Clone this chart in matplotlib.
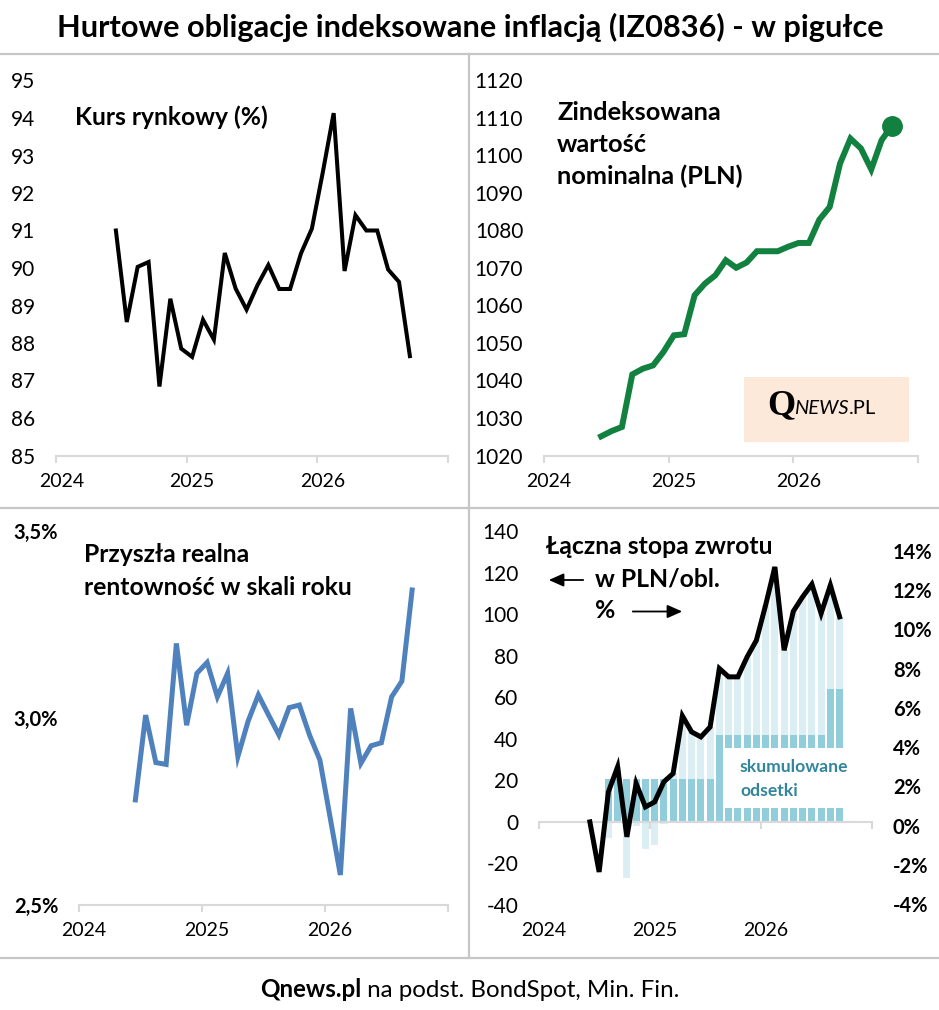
import numpy as np
import matplotlib
matplotlib.use("Agg")
import matplotlib.pyplot as plt
from matplotlib.patches import Rectangle, FancyArrowPatch
from matplotlib.lines import Line2D
from matplotlib.transforms import ScaledTranslation

# ---------------- data ----------------
months = ['2024-06', '2024-07', '2024-08', '2024-09', '2024-10', '2024-11', '2024-12',
          '2025-01', '2025-02', '2025-03', '2025-04', '2025-05', '2025-06', '2025-07',
          '2025-08', '2025-09', '2025-10', '2025-11', '2025-12', '2026-01', '2026-02',
          '2026-03', '2026-04', '2026-05', '2026-06', '2026-07', '2026-08', '2026-09']
months_nominal = months + ['2026-10']

year_labels = ['2024', '2025', '2026']

price = [91.0, 88.56, 90.03, 90.16, 86.84, 89.18, 87.85, 87.63, 88.62, 88.09,
         90.40, 89.45, 88.89, 89.54, 90.08, 89.44, 89.44, 90.39, 91.05, 92.55,
         94.13, 89.92, 91.41, 91.0, 91.0, 89.96, 89.63, 87.65]

nominal = [1025.1, 1026.5, 1027.6, 1041.6, 1043.1, 1044.0, 1047.6, 1052.0, 1052.3,
           1062.7, 1065.8, 1068.0, 1072.0, 1070.0, 1071.4, 1074.4, 1074.4, 1074.4,
           1075.6, 1076.6, 1076.6, 1082.8, 1086.2, 1097.8, 1104.4, 1101.8, 1096.2,
           1104.0, 1107.8]

real_yield = [2.780, 3.007, 2.880, 2.875, 3.199, 2.980, 3.119, 3.148, 3.056, 3.119,
              2.896, 2.991, 3.061, 3.007, 2.954, 3.027, 3.034, 2.953, 2.887, 2.733,
              2.579, 3.025, 2.878, 2.925, 2.933, 3.056, 3.098, 3.342]

total_return_pln = [0.0, -24.1, 14.4, 26.5, -7.2, 18.5, 7.2, 9.6, 19.3, 23.3,
                    51.0, 43.3, 40.9, 45.7, 73.8, 69.8, 69.8, 79.4, 87.4, 104.3,
                    122.7, 82.6, 101.4, 108.3, 114.4, 100.3, 113.9, 98.7]

interest_pct = [0.0, 0.0, 2.17, 2.17, 2.17, 2.17, 2.17, 2.17, 2.17, 2.17,
                2.17, 2.17, 2.17, 2.17, 4.42, 4.42, 4.42, 4.42, 4.42, 4.42,
                4.42, 4.42, 4.42, 4.42, 4.42, 4.42, 6.76, 6.76]

price_pct = [0.0, 0.0, -0.82, 0.63, -2.85, -0.20, -1.38, -1.19, -0.13, 0.30,
             3.23, 2.41, 2.16, 2.67, 3.40, 2.98, 2.98, 3.99, 4.84, 6.63,
             8.57, 4.33, 6.32, 7.05, 7.70, 6.20, 5.29, 3.68]

# ---------------- setup ----------------
W, H, DPI = 939, 1010, 100
plt.rcParams['font.family'] = ['Lato', 'DejaVu Sans']

fig = plt.figure(figsize=(W / DPI, H / DPI), dpi=DPI)
fig.patch.set_facecolor('white')
renderer = fig.canvas.get_renderer()


def fx(x):
    return x / W


def fy(y):
    return 1 - y / H


def month_x(s):
    y, m = s.split('-')
    return (int(y) - 2024) * 12 + int(m) - 1 + 0.5


x = np.array([month_x(m) for m in months])
x_nom = np.array([month_x(m) for m in months_nominal])
year_ticks = [(int(y) - 2024) * 12 for y in year_labels] + [36]
label_pos = [(int(y) - 2024) * 12 + 0.5 for y in year_labels]

AX_GRAY = '#d9d9d9'
SEP_GRAY = '#c6c6c6'
GREEN = '#12803f'
BLUE = '#4f81bd'
LIGHT = '#daeef3'
DARK = '#92cddc'
TEAL = '#31859c'

TICK_FS = 15
YEAR_FS = 14
BOLD_TICK_FS = 14.5


def add_ax(x0, y0, x1, y1):
    return fig.add_axes([fx(x0), fy(y1), (x1 - x0) / W, (y1 - y0) / H])


def base_style(ax, ylim, yticks, ylabels, ybold=False, show_bottom=True):
    ax.set_facecolor('none')
    ax.set_xlim(0, 36)
    ax.set_ylim(*ylim)
    for s in ('left', 'right', 'top'):
        ax.spines[s].set_visible(False)
    ax.spines['bottom'].set_color(AX_GRAY)
    ax.spines['bottom'].set_linewidth(1.5)
    ax.spines['bottom'].set_visible(show_bottom)
    ax.set_xticks(year_ticks)
    ax.set_xticklabels([])
    ax.set_xticks(label_pos, minor=True)
    ax.set_xticklabels(year_labels, minor=True, fontsize=YEAR_FS)
    ax.tick_params(axis='x', which='major', length=5 if show_bottom else 0,
                   width=1.5, color=AX_GRAY)
    ax.tick_params(axis='x', which='minor', length=0, pad=12.5)
    ax.set_yticks(yticks)
    ax.set_yticklabels(ylabels, fontsize=BOLD_TICK_FS if ybold else TICK_FS,
                       fontweight='bold' if ybold else 'normal')
    ax.tick_params(axis='y', length=0, pad=15)


def put(xp, yp, s, size, target_w=None, **kw):
    kw.setdefault('ha', 'left')
    kw.setdefault('va', 'baseline')
    t = fig.text(fx(xp), fy(yp), s, fontsize=size, **kw)
    if target_w:
        w = t.get_window_extent(renderer).width
        t.set_fontsize(size * target_w / w)
    return t


# ---------------- panel 1: price ----------------
ax1 = add_ax(56, 80.5, 448, 455.5)
base_style(ax1, (85, 95), list(range(85, 96)), [str(v) for v in range(85, 96)])
ax1.plot(x, price, color='black', lw=2.9, solid_joinstyle='miter')

# ---------------- panel 2: indexed nominal ----------------
ax2 = add_ax(544, 80, 918, 455.5)
base_style(ax2, (1020, 1120), list(range(1020, 1121, 10)),
           [str(v) for v in range(1020, 1121, 10)])
ax2.plot(x_nom, nominal, color=GREEN, lw=4.3, solid_joinstyle='miter')
ax2.plot(x_nom[-1:], nominal[-1:], 'o', color=GREEN, ms=14)

# ---------------- panel 3: real yield ----------------
ax3 = add_ax(79, 531, 448, 904.5)
base_style(ax3, (2.5, 3.5), [2.5, 3.0, 3.5], ['2,5%', '3,0%', '3,5%'], ybold=True)
ax3.plot(x, real_yield, color=BLUE, lw=3.6, solid_joinstyle='miter')

# ---------------- panel 4: total return ----------------
ax4 = add_ax(539, 531, 872, 905)
base_style(ax4, (-40, 140), list(range(-40, 141, 20)),
           [str(v) for v in range(-40, 141, 20)], show_bottom=False)
sec = ax4.secondary_xaxis(40 / 180)
sec.set_xticks(year_ticks)
sec.set_xticklabels([])
sec.spines['bottom'].set_color(AX_GRAY)
sec.spines['bottom'].set_linewidth(1.5)
sec.tick_params(axis='x', length=5, width=1.5, color=AX_GRAY)

ax4r = ax4.twinx()
ax4.set_zorder(ax4r.get_zorder() + 1)
ax4.patch.set_visible(False)
ratio = 180 / 19.05
ax4r.set_ylim(-40 / ratio, 140 / ratio)
for s in ('left', 'right', 'top', 'bottom'):
    ax4r.spines[s].set_visible(False)
rt = list(range(-4, 15, 2))
ax4r.set_yticks(rt)
ax4r.set_yticklabels([f'{v}%' for v in rt], fontsize=BOLD_TICK_FS, fontweight='bold')
ax4r.tick_params(axis='y', length=0, pad=15)
off = ScaledTranslation(0, -3.8 / DPI, fig.dpi_scale_trans)
for lab in ax4r.get_yticklabels():
    lab.set_transform(lab.get_transform() + off)

interest = np.array(interest_pct)
pricep = np.array(price_pct)
ax4r.bar(x, interest, width=0.78, color=DARK, linewidth=0)
ax4r.bar(x, pricep, bottom=np.where(pricep >= 0, interest, 0), width=0.78,
         color=LIGHT, linewidth=0)
ax4r.add_patch(Rectangle((fx(724), fy(808)), (845 - 724) / W, (808 - 748) / H,
                         transform=fig.transFigure, facecolor='white',
                         edgecolor='none', zorder=2.5, clip_on=False))
ax4.plot(x, total_return_pln, color='black', lw=3.6, solid_joinstyle='miter')

# ---------------- separators ----------------
for yy in (53.5, 507.5, 957.5):
    fig.add_artist(Line2D([0, 1], [fy(yy), fy(yy)], color=SEP_GRAY, lw=1.6,
                          transform=fig.transFigure))
fig.add_artist(Line2D([fx(469), fx(469)], [fy(53.5), fy(957.5)], color=SEP_GRAY,
                      lw=1.6, transform=fig.transFigure))

# ---------------- texts ----------------
put(470.5, 37, 'Hurtowe obligacje indeksowane inflacją (IZ0836) - w pigułce', 20,
    target_w=827, ha='center', fontweight='bold')

put(75, 125, 'Kurs rynkowy (%)', 16, target_w=193, fontweight='bold')

t = put(557, 184, 'nominalna (PLN)', 16, target_w=186, fontweight='bold')
fs2 = t.get_fontsize()
put(557, 119.5, 'Zindeksowana', fs2, fontweight='bold')
put(557, 151.5, 'wartość', fs2, fontweight='bold')

t = put(83.5, 595, 'rentowność w skali roku', 16, target_w=270, fontweight='bold')
fs3 = t.get_fontsize()
put(83.5, 562.5, 'Przyszła realna', fs3, fontweight='bold')

t = put(546, 554, 'Łączna stopa zwrotu', 16, target_w=226.5, fontweight='bold')
fs4 = t.get_fontsize()
put(595, 586.5, 'w PLN/obl.', fs4, fontweight='bold')
put(595, 618.5, '%', fs4, fontweight='bold')

fig.add_artist(FancyArrowPatch((fx(586), fy(580)), (fx(546), fy(580)),
                               transform=fig.transFigure,
                               arrowstyle='-|>,head_length=0.45,head_width=0.2',
                               mutation_scale=20, lw=1.3, color='black'))
fig.add_artist(FancyArrowPatch((fx(630), fy(611.5)), (fx(685), fy(611.5)),
                               transform=fig.transFigure,
                               arrowstyle='-|>,head_length=0.45,head_width=0.2',
                               mutation_scale=20, lw=1.3, color='black'))

t = put(740, 772.5, 'skumulowane', 13, target_w=108, fontweight='bold', color=TEAL,
        zorder=5)
put(740, 795.5, 'odsetki', t.get_fontsize(), fontweight='bold', color=TEAL, zorder=5)

# logo
fig.add_artist(Rectangle((fx(744), fy(441.5)), (909 - 744) / W, (441.5 - 377.5) / H,
                         transform=fig.transFigure, facecolor='#fde9d9',
                         edgecolor='none'))
q = put(767, 414.5, 'Q', 26, family=['Liberation Serif', 'DejaVu Serif'],
        fontweight='bold')
qb = q.get_window_extent(renderer)
n = put(qb.x1 - 1, 414.5, 'NEWS', 14.5, style='italic')
nb = n.get_window_extent(renderer)
put(nb.x1, 414.5, '.PL', 14.5)

# footer
f1 = fig.text(0, fy(997), 'Qnews.pl', fontsize=15, fontweight='bold', va='baseline')
f2 = fig.text(0, fy(997), ' na podst. BondSpot, Min. Fin.', fontsize=15,
              va='baseline')
w1 = f1.get_window_extent(renderer).width
w2 = f2.get_window_extent(renderer).width
scale = 419 / (w1 + w2)
f1.set_fontsize(15 * scale)
f2.set_fontsize(15 * scale)
w1 = f1.get_window_extent(renderer).width
w2 = f2.get_window_extent(renderer).width
start = 469.5 - (w1 + w2) / 2
f1.set_x(fx(start))
f2.set_x(fx(start + w1))

fig.savefig('out.png', dpi=DPI)
